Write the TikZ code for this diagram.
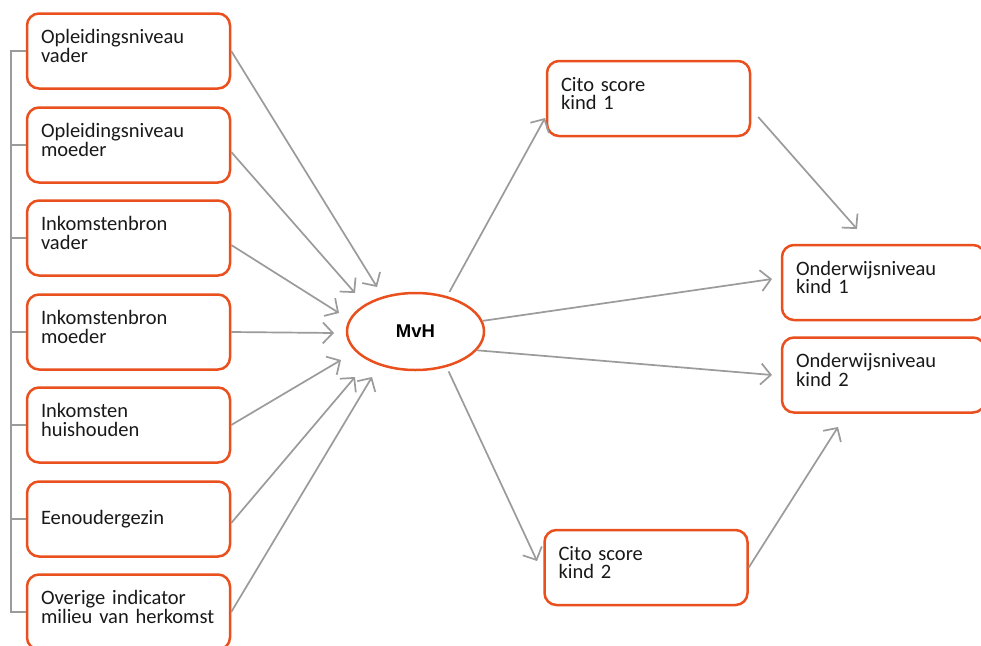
\documentclass[tikz,border=0pt]{standalone}
\usepackage{fontspec}
\setmainfont{Carlito}
\newfontfamily\arialfont{Liberation Sans}
\usetikzlibrary{arrows.meta,shapes.geometric}
\definecolor{orng}{RGB}{233,80,30}
\definecolor{arrg}{RGB}{155,155,155}
\definecolor{txt}{RGB}{25,25,25}
\tikzset{
  box/.style={draw=orng, line width=2.5pt, rounded corners=12pt, fill=white,
    minimum width=203pt, minimum height=75pt, text width=175pt,
    inner xsep=14pt, inner ysep=0pt, text=txt,
    font=\fontsize{20.5}{18.5}\selectfont},
  two/.style={text height=14pt, text depth=29pt},
  arr/.style={draw=arrg, line width=1.7pt, -{Straight Barb[length=10pt,width=21pt]}},
  link/.style={draw=arrg, line width=1.7pt},
}
\begin{document}
\begin{tikzpicture}[x=1pt,y=-1pt]
\clip (0,0) rectangle (981,645);
\fill[white] (0,0) rectangle (981,645);
% left boxes
\node[box,two] (b1) at (128.5,51)  {Opleidingsniveau\newline vader};
\node[box,two] (b2) at (128.5,145) {Opleidingsniveau\newline moeder};
\node[box,two] (b3) at (128.5,238) {Inkomstenbron\newline vader};
\node[box,two] (b4) at (128.5,332) {Inkomstenbron\newline moeder};
\node[box,two] (b5) at (128.5,425) {Inkomsten\newline huishouden};
\node[box]     (b6) at (128.5,519) {Eenoudergezin};
\node[box,two] (b7) at (128.5,612) {Overige indicator\newline milieu van herkomst};
% central ellipse
\node[ellipse, draw=orng, line width=2.5pt, fill=white, minimum width=137pt,
  minimum height=77pt, inner sep=0pt,
  font=\arialfont\bfseries\fontsize{18.5}{20}\selectfont] (m) at (415.5,331.5) {MvH};
% right boxes
\node[box,two] (c1) at (648.5,98.5) {Cito score\newline kind 1};
\node[box,two] (o1) at (883.5,282.5) {Onderwijsniveau\newline kind 1};
\node[box,two] (o2) at (883.5,375) {Onderwijsniveau\newline kind 2};
\node[box,two] (c2) at (646,567.5) {Cito score\newline kind 2};
% bracket
\draw[link] (b1.west) -- ++(-15,0) |- (b7.west);
\foreach \b in {b2,b3,b4,b5,b6} \draw[link] (\b.west) -- ++(-15,0);
% arrow tips
\coordinate (t1) at (377,287);
\coordinate (t2) at (355,293);
\coordinate (t3) at (339,313);
\coordinate (t4) at (334,333);
\coordinate (t5) at (341,360);
\coordinate (t6) at (355,377);
\coordinate (t7) at (372,377);
\coordinate (tc1) at (545,118);
\coordinate (to1a) at (857,229);
\coordinate (to1) at (772,279);
\coordinate (to2) at (772,375);
\coordinate (tc2) at (537,561);
\coordinate (to2b) at (838,427);
% left arrows
\draw[arr] (b1.east) -- (t1);
\draw[arr] ([yshift=-7pt]b2.east) -- (t2);
\draw[arr] ([yshift=-7pt]b3.east) -- (t3);
\draw[arr] (b4.east) -- (t4);
\draw[arr] (b5.east) -- (t5);
\draw[arr] ([yshift=-4pt]b6.east) -- (t6);
\draw[arr] (b7.east) -- (t7);
% right arrows
\draw[arr] ([shift={(3pt,4pt)}]m.49) -- (tc1);
\draw[arr] ([shift={(7pt,-18.5pt)}]c1.east) -- (to1a);
\draw[arr] (m.9) -- (to1);
\draw[arr] (m.-17) -- (to2);
\draw[arr] ([shift={(3pt,-4pt)}]m.-50) -- (tc2);
\draw[arr] (c2.east) -- (to2b);
\end{tikzpicture}
\end{document}
